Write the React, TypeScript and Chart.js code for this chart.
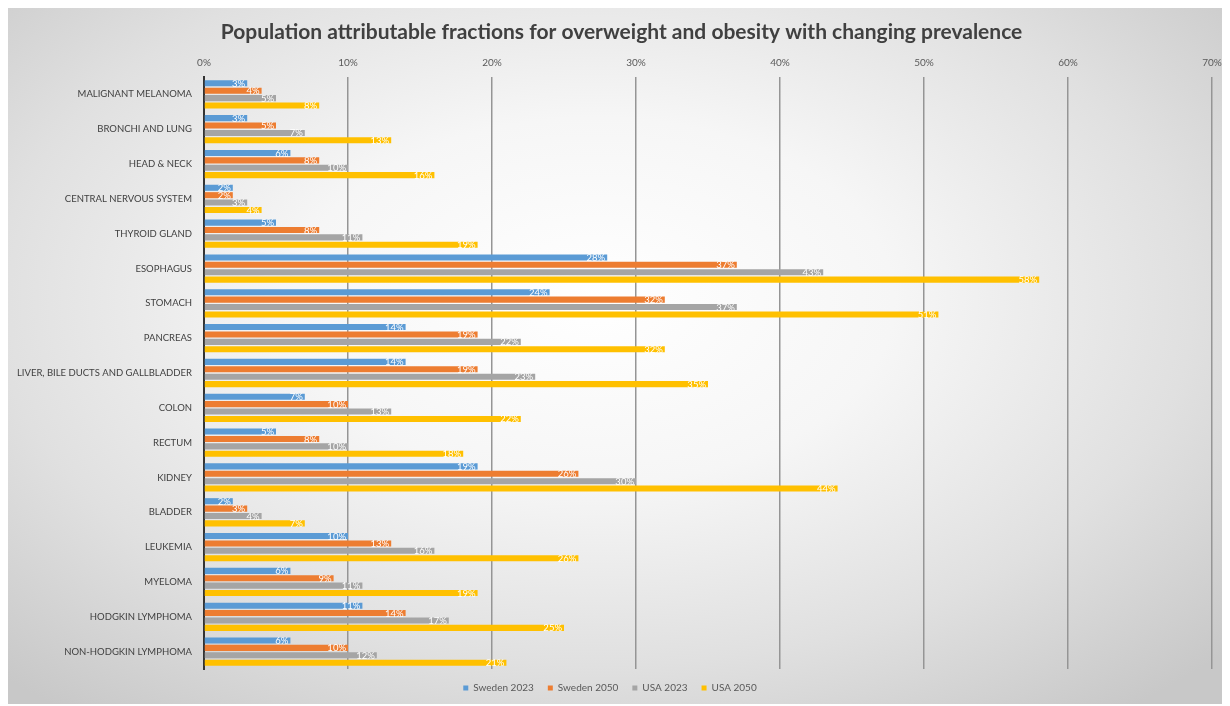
import React, { useEffect, useRef } from "react";
import { Chart, registerables } from "chart.js";

Chart.register(...registerables);

const categories = [
  "MALIGNANT MELANOMA",
  "BRONCHI AND LUNG",
  "HEAD & NECK",
  "CENTRAL NERVOUS SYSTEM",
  "THYROID GLAND",
  "ESOPHAGUS",
  "STOMACH",
  "PANCREAS",
  "LIVER, BILE DUCTS AND GALLBLADDER",
  "COLON",
  "RECTUM",
  "KIDNEY",
  "BLADDER",
  "LEUKEMIA",
  "MYELOMA",
  "HODGKIN LYMPHOMA",
  "NON-HODGKIN LYMPHOMA",
];

const sweden2023 = [3, 3, 6, 2, 5, 28, 24, 14, 14, 7, 5, 19, 2, 10, 6, 11, 6];
const sweden2050 = [4, 5, 8, 2, 8, 37, 32, 19, 19, 10, 8, 26, 3, 13, 9, 14, 10];
const usa2023 = [5, 7, 10, 3, 11, 43, 37, 22, 23, 13, 10, 30, 4, 16, 11, 17, 12];
const usa2050 = [8, 13, 16, 4, 19, 58, 51, 32, 35, 22, 18, 44, 7, 26, 19, 25, 21];

const seriesNames = ["Sweden 2023", "Sweden 2050", "USA 2023", "USA 2050"];
const seriesColors = ["#5b9bd5", "#ed7d31", "#a5a5a5", "#ffc000"];

const titleText =
  "Population attributable fractions for overweight and obesity with changing prevalence";

const W = 1222;
const H = 696;

const valueLabels = {
  id: "valueLabels",
  afterDatasetsDraw(chart: any) {
    const ctx = chart.ctx;
    ctx.save();
    ctx.font = "9.5px Lato";
    ctx.fillStyle = "#ffffff";
    ctx.textAlign = "right";
    ctx.textBaseline = "middle";
    chart.data.datasets.forEach((ds: any, di: number) => {
      const meta = chart.getDatasetMeta(di);
      meta.data.forEach((el: any, i: number) => {
        ctx.fillText(ds.data[i] + "%", el.x - 2, el.y + 0.5);
      });
    });
    ctx.restore();
  },
};

const titlePlugin = {
  id: "customTitle",
  afterDraw(chart: any) {
    const ctx = chart.ctx;
    ctx.save();
    ctx.font = "bold 21px Lato";
    ctx.fillStyle = "#404040";
    ctx.textAlign = "center";
    ctx.textBaseline = "middle";
    ctx.fillText(titleText, 613.5, 24);
    ctx.restore();
  },
};

export default function App() {
  const ref = useRef<HTMLCanvasElement | null>(null);

  useEffect(() => {
    document.body.style.overflow = "hidden";
    const data = [sweden2023, sweden2050, usa2023, usa2050];
    const chart = new Chart(ref.current as HTMLCanvasElement, {
      type: "bar",
      data: {
        labels: categories,
        datasets: data.map((d, i) => ({
          label: seriesNames[i],
          data: d,
          backgroundColor: seriesColors[i],
          borderWidth: 0,
          categoryPercentage: 0.85,
          barPercentage: 0.82,
        })),
      },
      options: {
        indexAxis: "y",
        responsive: false,
        animation: false,
        devicePixelRatio: 1,
        layout: { padding: { left: 0, right: 18, top: 40, bottom: 1 } },
        plugins: {
          title: { display: false },
          legend: {
            position: "bottom",
            labels: {
              boxWidth: 5,
              boxHeight: 5,
              color: "#595959",
              font: { family: "Lato", size: 10 },
              padding: 14,
            },
          },
          tooltip: { enabled: false },
        },
        scales: {
          x: {
            position: "top",
            min: 0,
            max: 70,
            ticks: {
              stepSize: 10,
              color: "#595959",
              font: { family: "Lato", size: 10 },
              padding: 8,
              callback: (v: any) => v + "%",
            },
            grid: { color: "#959595", lineWidth: 1.5, drawTicks: false },
            border: { display: false },
            afterFit: (s: any) => {
              s.height = 29;
            },
          },
          y: {
            ticks: {
              color: "#404040",
              font: { family: "Lato", size: 9.5 },
              padding: 12,
              autoSkip: false,
            },
            grid: { display: false, drawTicks: false },
            border: { display: true, color: "#333333", width: 2 },
            afterFit: (s: any) => {
              s.width = 196;
            },
          },
        },
      },
      plugins: [valueLabels, titlePlugin],
    });
    return () => chart.destroy();
  }, []);

  return (
    <div
      style={{
        width: W,
        height: H,
        background:
          "radial-gradient(ellipse 70% 75% at 48% 42%, #ffffff 0%, #f6f6f6 35%, #e0e0e0 70%, #c8c8c8 100%)",
      }}
    >
      <canvas ref={ref} width={W} height={H} style={{ display: "block" }} />
    </div>
  );
}
